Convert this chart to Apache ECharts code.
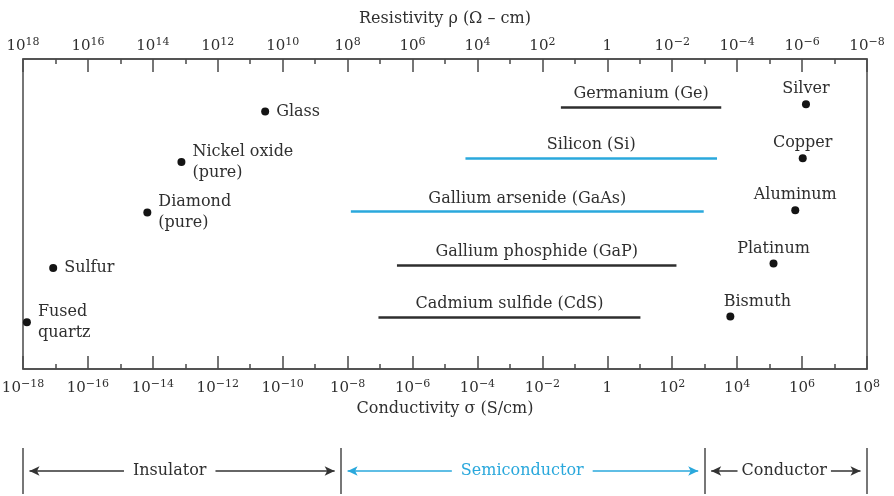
<!DOCTYPE html>
<html>
<head>
<meta charset="utf-8">
<script src="https://cdn.jsdelivr.net/npm/echarts@6/dist/echarts.min.js"></script>
<style>
  html, body { margin: 0; padding: 0; background: #fff; }
  #chart { width: 894px; height: 496px; }
</style>
</head>
<body>
<div id="chart"></div>
<script>
// x axis is log10 of conductivity (S/cm), -18 .. 8
const sigmaTickExp = ['−18', '−16', '−14', '−12', '−10', '−8', '−6', '−4', '−2', '0', '2', '4', '6', '8'];
const rhoTickExp = ['18', '16', '14', '12', '10', '8', '6', '4', '2', '0', '−2', '−4', '−6', '−8'];

// dots with label on the right
const insulatorNames = ['Glass', 'Nickel oxide\n(pure)', 'Diamond\n(pure)', 'Sulfur', 'Fused\nquartz'];
const insulatorLogSigma = [-10.54, -13.12, -14.17, -17.07, -17.88];
const insulatorRow = [4.9, 3.94, 2.98, 1.92, 0.89];

// metals, label above
const metalNames = ['Silver', 'Copper', 'Aluminum', 'Platinum', 'Bismuth'];
const metalLogSigma = [6.12, 6.02, 5.79, 5.12, 3.79];
const metalRow = [5.04, 4.01, 3.02, 2.01, 1.0];

// semiconductor ranges
const semiNames = ['Germanium (Ge)', 'Silicon (Si)', 'Gallium arsenide (GaAs)', 'Gallium phosphide (GaP)', 'Cadmium sulfide (CdS)'];
const semiLogSigmaMin = [-1.43, -4.37, -7.9, -6.48, -7.05];
const semiLogSigmaMax = [3.51, 3.38, 2.97, 2.13, 1.02];
const semiRow = [4.99, 4.02, 3.0, 1.98, 0.99];
const semiHighlight = [false, true, true, false, false];

// classification bar under the chart
const classNames = ['Insulator', 'Semiconductor', 'Conductor'];
const classBounds = [-18, -8.2, 3, 8];
const classLabelAt = [-13.48, -2.62, 5.45];

const FONT = 'DejaVu Serif';
const TXT = '#2f2f2f';
const AXIS = '#4a4a4a';
const BLUE = '#2aa8dc';

function tickFmt(list) {
  return function (v) {
    const e = list[Math.round((v + 18) / 2)];
    if (e === undefined) return '';
    if (e === '0') return '{b|1}';
    return '{b|10}{s|' + e + '}';
  };
}
const tickRich = {
  b: { fontSize: 15, fontFamily: FONT, color: TXT, lineHeight: 17, verticalAlign: 'bottom' },
  s: { fontSize: 11, fontFamily: FONT, color: TXT, lineHeight: 11, verticalAlign: 'top' }
};

function xAxisFor(pos, list, name, nameGap) {
  return {
    type: 'value', gridIndex: 0, position: pos,
    min: -18, max: 8, interval: 2,
    name: name, nameLocation: 'middle', nameGap: nameGap,
    nameTextStyle: { fontFamily: FONT, fontSize: 16, color: TXT },
    axisLine: { show: true, lineStyle: { color: AXIS, width: 1.5 } },
    axisTick: { show: true, inside: true, length: 13, lineStyle: { color: AXIS, width: 1.5 } },
    minorTick: { show: true, splitNumber: 2, length: 5, lineStyle: { color: AXIS, width: 1.5 } },
    splitLine: { show: false },
    axisLabel: { margin: pos === 'top' ? 5 : 10, formatter: tickFmt(list), rich: tickRich }
  };
}

const chart = echarts.init(document.getElementById('chart'));

const option = {
  backgroundColor: '#fff',
  animation: false,
  grid: [
    { left: 23, right: 27, top: 59, bottom: 127, show: true, borderColor: AXIS, borderWidth: 1.5, outerBoundsMode: 'none' },
    { left: 23, right: 27, top: 448, bottom: 2, outerBoundsMode: 'none' }
  ],
  xAxis: [
    xAxisFor('bottom', sigmaTickExp, 'Conductivity σ (S/cm)', 32),
    xAxisFor('top', rhoTickExp, 'Resistivity ρ (Ω – cm)', 32),
    { type: 'value', gridIndex: 1, min: -18, max: 8, show: false }
  ],
  yAxis: [
    { type: 'value', gridIndex: 0, min: 0, max: 5.9, show: false },
    { type: 'value', gridIndex: 1, min: 0, max: 1, show: false }
  ],
  series: [
    {
      type: 'lines', coordinateSystem: 'cartesian2d', xAxisIndex: 0, yAxisIndex: 0,
      data: semiNames.map((n, i) => ({
        name: n,
        coords: [[semiLogSigmaMin[i], semiRow[i]], [semiLogSigmaMax[i], semiRow[i]]],
        lineStyle: { color: semiHighlight[i] ? BLUE : '#2e2e2e' }
      })),
      lineStyle: { width: 2.5, curveness: 0, opacity: 1 },
      label: { show: true, position: 'middle', distance: 5, formatter: '{b}', fontFamily: FONT, fontSize: 16, color: TXT }
    },
    {
      type: 'scatter', xAxisIndex: 0, yAxisIndex: 0,
      symbolSize: 8, itemStyle: { color: '#141414', opacity: 1 },
      data: insulatorNames.map((n, i) => ({ name: n, value: [insulatorLogSigma[i], insulatorRow[i]] })),
      label: { show: true, position: 'right', distance: 7, formatter: '{b}', fontFamily: FONT, fontSize: 16, color: TXT, lineHeight: 21, align: 'left' }
    },
    {
      type: 'scatter', xAxisIndex: 0, yAxisIndex: 0,
      symbolSize: 8, itemStyle: { color: '#141414', opacity: 1 },
      data: metalNames.map((n, i) => ({
        name: n, value: [metalLogSigma[i], metalRow[i]],
        label: n === 'Bismuth' ? { offset: [27, 0] } : undefined
      })),
      label: { show: true, position: 'top', distance: 3, formatter: '{b}', fontFamily: FONT, fontSize: 16, color: TXT }
    },
    {
      // boundaries of the classification bar
      type: 'scatter', xAxisIndex: 2, yAxisIndex: 1, data: [], silent: true,
      markLine: {
        silent: true, symbol: ['none', 'none'], label: { show: false },
        lineStyle: { color: AXIS, width: 1.5, type: 'solid' },
        data: classBounds.map(b => ({ xAxis: b }))
      }
    },
    {
      // arrows + labels
      type: 'scatter', xAxisIndex: 2, yAxisIndex: 1, z: 10,
      symbolSize: 0, itemStyle: { opacity: 1 },
      data: classNames.map((n, i) => ({
        name: n, value: [classLabelAt[i], 0.5],
        label: { color: i === 1 ? BLUE : TXT, padding: i === 2 ? [2, 4] : [2, 9] }
      })),
      label: { show: true, position: 'inside', formatter: '{b}', fontFamily: FONT, fontSize: 16, backgroundColor: '#fff' },
      markLine: {
        silent: true, z: 1, symbol: ['arrow', 'arrow'], symbolSize: [7, 10], label: { show: false },
        lineStyle: { width: 1.5, type: 'solid' },
        data: classNames.map((n, i) => [
          { coord: [classBounds[i] + 0.2, 0.5], lineStyle: { color: i === 1 ? BLUE : '#333' }, itemStyle: { color: i === 1 ? BLUE : '#333' } },
          { coord: [classBounds[i + 1] - 0.2, 0.5] }
        ])
      }
    }
  ]
};

chart.setOption(option);
</script>
</body>
</html>
